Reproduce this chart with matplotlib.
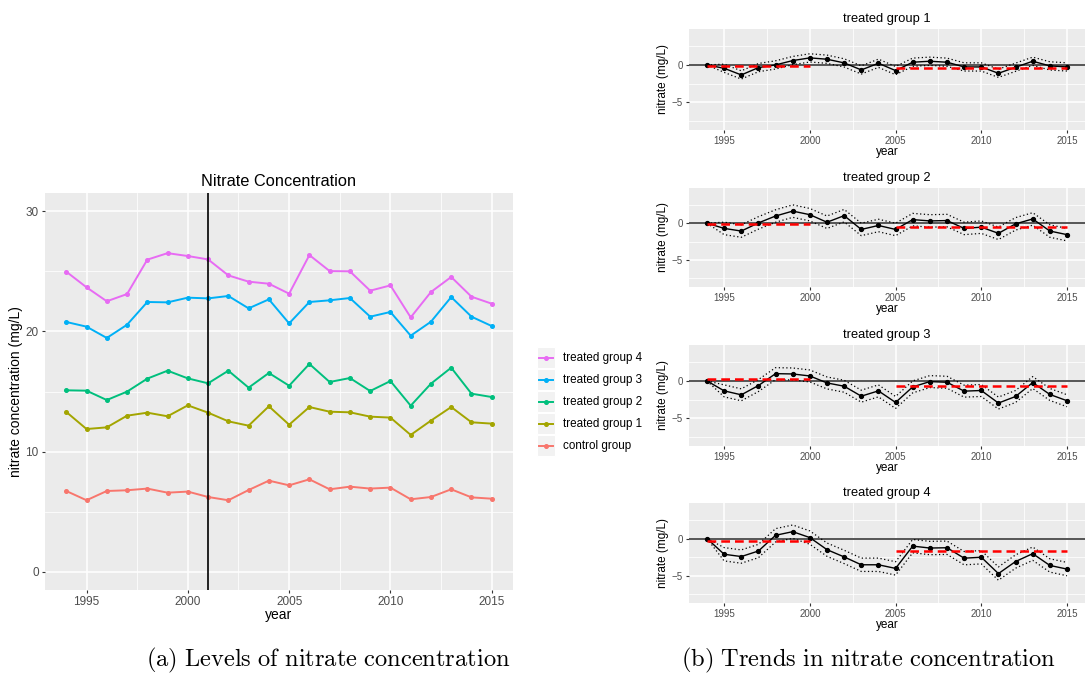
import numpy as np
import matplotlib
matplotlib.use("Agg")
import matplotlib.pyplot as plt
from matplotlib.lines import Line2D
from matplotlib.patches import Rectangle

plt.rcParams["font.family"] = ["Liberation Sans", "DejaVu Sans"]
plt.rcParams["mathtext.fontset"] = "cm"

# ─── data ─────────────────────────────────────────────────────────
years = list(range(1994, 2016))

control = [6.73, 5.96, 6.73, 6.79, 6.93, 6.59, 6.68, 6.23, 5.96, 6.81, 7.59,
           7.20, 7.70, 6.87, 7.09, 6.93, 7.01, 6.04, 6.23, 6.87, 6.20, 6.09]
treated1 = [13.30, 11.88, 12.02, 12.99, 13.24, 12.94, 13.85, 13.24, 12.52, 12.16, 13.77,
            12.24, 13.71, 13.32, 13.27, 12.91, 12.83, 11.39, 12.58, 13.71, 12.44, 12.33]
treated2 = [15.10, 15.07, 14.29, 14.99, 16.07, 16.73, 16.09, 15.68, 16.73, 15.32, 16.54,
            15.48, 17.29, 15.79, 16.12, 15.04, 15.87, 13.82, 15.65, 16.98, 14.82, 14.54]
treated3 = [20.78, 20.39, 19.45, 20.55, 22.44, 22.41, 22.80, 22.74, 22.94, 21.91, 22.66,
            20.66, 22.44, 22.58, 22.77, 21.22, 21.61, 19.64, 20.80, 22.85, 21.22, 20.44]
treated4 = [24.96, 23.66, 22.50, 23.10, 25.96, 26.50, 26.26, 25.98, 24.65, 24.13, 23.96,
            23.13, 26.34, 25.01, 24.99, 23.38, 23.82, 21.16, 23.27, 24.52, 22.88, 22.30]

level_labels = ["control group", "treated group 1", "treated group 2",
                "treated group 3", "treated group 4"]
level_colors = ["#F8766D", "#A3A500", "#00BF7D", "#00B0F6", "#E76BF3"]
levels = [control, treated1, treated2, treated3, treated4]
treatment_year = 2001

# trends (difference to control, relative to 1994)
trend1 = [0.0, -0.45, -1.34, -0.36, 0.0, 0.58, 0.94, 0.76, 0.27, -0.67, 0.22,
          -0.76, 0.36, 0.49, 0.36, -0.27, -0.27, -1.12, -0.31, 0.49, -0.13, -0.27]
trend2 = [0.0, -0.71, -1.07, 0.04, 0.98, 1.65, 1.16, 0.13, 1.03, -0.85, -0.31,
          -0.85, 0.49, 0.31, 0.36, -0.71, -0.54, -1.38, -0.09, 0.58, -1.07, -1.56]
trend3 = [0.0, -1.33, -1.86, -0.62, 0.97, 0.93, 0.66, -0.27, -0.71, -2.04, -1.33,
          -2.88, -0.80, -0.09, -0.18, -1.37, -1.28, -2.96, -2.08, -0.22, -1.81, -2.65]
trend4 = [0.0, -2.12, -2.43, -1.68, 0.44, 0.93, 0.13, -1.50, -2.48, -3.54, -3.54,
          -4.03, -1.02, -1.28, -1.24, -2.65, -2.52, -4.73, -3.10, -2.04, -3.63, -4.12]
trends = [trend1, trend2, trend3, trend4]
trend_titles = ["treated group 1", "treated group 2", "treated group 3", "treated group 4"]
ci_halfwidth = [0.55, 0.85, 0.8, 0.9]

pre_period = (1994, 2000)
post_period = (2005, 2015)
pre_mean = [-0.13, -0.13, 0.27, -0.27]
post_mean = [-0.40, -0.45, -0.66, -1.68]

# ─── style helpers ────────────────────────────────────────────────
W, H = 1086, 677
BG = "#EBEBEB"
TXT = "#4D4D4D"


def frac(x0, y0, x1, y1):
    """pixel box (top-left origin) -> figure fraction rect"""
    return [x0 / W, 1 - y1 / H, (x1 - x0) / W, (y1 - y0) / H]


def gg_style(ax, xmaj, xmin, ymaj, ymin, tick_fs):
    ax.set_facecolor(BG)
    for s in ax.spines.values():
        s.set_visible(False)
    ax.set_xticks(xmaj)
    ax.set_xticks(xmin, minor=True)
    ax.set_yticks(ymaj)
    ax.set_yticks(ymin, minor=True)
    ax.grid(which="major", color="white", linewidth=1.1)
    ax.grid(which="minor", color="white", linewidth=0.55)
    ax.set_axisbelow(True)
    ax.tick_params(which="major", length=2.5, width=0.8, color="#333333",
                   labelsize=tick_fs, labelcolor=TXT, pad=2)
    ax.tick_params(which="minor", length=0)


fig = plt.figure(figsize=(W / 100, H / 100), dpi=100)

# ── (a) levels ───────────────────────────────────────────────────
ax = fig.add_axes(frac(45, 193, 513, 590))
gg_style(ax, [1995, 2000, 2005, 2010, 2015], [1992.5, 1997.5, 2002.5, 2007.5, 2012.5],
         [0, 10, 20, 30], [5, 15, 25], 8.5)
for vals, col in zip(levels, level_colors):
    ax.plot(years, vals, color=col, linewidth=1.4, marker="o", markersize=2.6)
ax.axvline(treatment_year, color="black", linewidth=1.2)
ax.set_xlim(1992.95, 2016.05)
ax.set_ylim(-1.5, 31.5)
ax.set_xlabel("year", fontsize=10, labelpad=0)
ax.set_ylabel("nitrate concentration (mg/L)", fontsize=10, labelpad=2)
ax.set_title("Nitrate Concentration", fontsize=11.8, pad=5)

# legend (ggplot-like keys)
leg_top = 347
for i, (lab, col) in enumerate(zip(level_labels[::-1], level_colors[::-1])):
    y0 = leg_top + i * 22
    fig.patches.append(Rectangle((537 / W, 1 - (y0 + 21) / H), 18 / W, 21 / H,
                                 transform=fig.transFigure, facecolor="#F2F2F2",
                                 edgecolor="white", linewidth=0.8))
    yc = 1 - (y0 + 10.5) / H
    fig.add_artist(Line2D([539 / W, 553 / W], [yc, yc], color=col, linewidth=1.4,
                          transform=fig.transFigure))
    fig.add_artist(Line2D([546 / W], [yc], color=col, marker="o", markersize=2.6,
                          transform=fig.transFigure))
    fig.text(563 / W, yc, lab, fontsize=8.4, va="center", ha="left", color="black")

# ── (b) trends ───────────────────────────────────────────────────
boxes = [(29, 130), (188, 287), (345, 446), (503, 603)]
for k, (top, bot) in enumerate(boxes):
    tx = fig.add_axes(frac(689, top, 1085, bot))
    gg_style(tx, [1995, 2000, 2005, 2010, 2015], [1992.5, 1997.5, 2002.5, 2007.5, 2012.5],
             [-5, 0], [-7.5, -2.5, 2.5], 7)
    tr = np.array(trends[k])
    hw = np.full(len(tr), ci_halfwidth[k])
    hw[0] = 0.0
    tx.axhline(0, color="#555555", linewidth=1.4, zorder=2)
    tx.plot(years, tr + hw, color="black", linestyle=(0, (1, 2)), linewidth=0.9, zorder=3)
    tx.plot(years, tr - hw, color="black", linestyle=(0, (1, 2)), linewidth=0.9, zorder=3)
    tx.plot(years, tr, color="black", linewidth=1.0, marker="o", markersize=2.8, zorder=4)
    tx.plot(pre_period, [pre_mean[k]] * 2, color="red", linestyle=(0, (3.5, 2)),
            linewidth=1.8, zorder=5)
    tx.plot(post_period, [post_mean[k]] * 2, color="red", linestyle=(0, (3.5, 2)),
            linewidth=1.8, zorder=5)
    tx.set_xlim(1992.95, 2016.05)
    tx.set_ylim(-8.7, 4.8)
    tx.set_title(trend_titles[k], fontsize=9.3, pad=5)
    tx.set_xlabel("year", fontsize=8.5, labelpad=0)
    tx.set_ylabel("nitrate (mg/L)", fontsize=8.5, labelpad=2)

# captions
fig.text(328 / W, 1 - 660 / H, r"$\mathrm{(a)\ Levels\ of\ nitrate\ concentration}$",
         fontsize=17.6, ha="center", va="center")
fig.text(868 / W, 1 - 660 / H, r"$\mathrm{(b)\ Trends\ in\ nitrate\ concentration}$",
         fontsize=17.6, ha="center", va="center")

fig.savefig("out.png", dpi=100)
